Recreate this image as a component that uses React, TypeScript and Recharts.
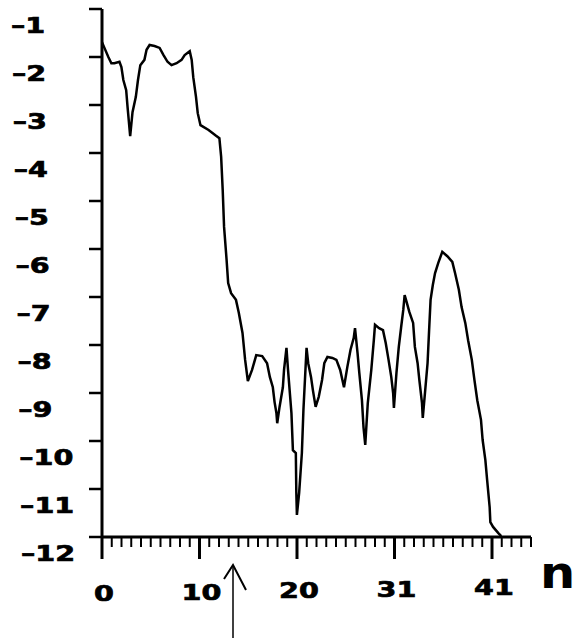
import React from "react";
import { LineChart, Line, XAxis, YAxis } from "recharts";

// n positions (axis units)
const nValues = [
  0, 0.25, 0.65, 0.96, 1.27, 1.79, 1.99, 2.19, 2.48, 2.62, 2.89, 3.13, 3.47,
  3.69, 3.93, 4.35, 4.57, 4.88, 5.39, 5.91, 6.31, 6.72, 7.13, 7.65, 8.16, 8.48,
  9.0, 9.2, 9.36, 9.64, 9.82, 10.1, 10.93, 11.63, 12.04, 12.22, 12.38, 12.52,
  12.78, 12.94, 13.24, 13.74, 14.03, 14.41, 14.68, 14.96, 15.39, 15.82, 16.43,
  16.93, 17.22, 17.52, 17.7, 17.89, 17.97, 18.21, 18.55, 18.67, 18.92, 19.08,
  19.43, 19.58, 19.88, 19.93, 19.99, 20.22, 20.5, 20.66, 20.98, 21.15, 21.44,
  21.63, 21.91, 22.23, 22.57, 22.8, 23.12, 23.63, 24.04, 24.43, 24.82, 25.16,
  25.49, 25.82, 25.95, 26.21, 26.39, 26.66, 26.82, 27.0, 27.26, 27.62, 27.88,
  28.0, 28.42, 28.82, 29.1, 29.39, 29.67, 29.86, 29.94, 30.2, 30.44, 30.68,
  30.9, 31.04, 31.24, 31.52, 31.91, 32.09, 32.37, 32.55, 32.82, 32.9, 33.15,
  33.39, 33.55, 33.7, 33.93, 34.16, 34.49, 34.9, 35.42, 35.93, 36.21, 36.6,
  36.88, 37.26, 37.55, 37.93, 38.2, 38.49, 38.87, 39.04, 39.32, 39.5, 39.76,
  39.83, 40.11, 40.65, 40.95,
];

const levelValues = [
  -1.69, -1.81, -2.0, -2.13, -2.13, -2.1, -2.21, -2.48, -2.69, -3.04, -3.65,
  -3.15, -2.83, -2.48, -2.17, -2.06, -1.85, -1.75, -1.77, -1.81, -1.96, -2.1,
  -2.17, -2.13, -2.06, -1.96, -1.88, -2.06, -2.42, -2.83, -3.17, -3.42, -3.52,
  -3.63, -3.69, -4.08, -4.77, -5.54, -6.23, -6.71, -6.92, -7.06, -7.33, -7.75,
  -8.31, -8.75, -8.52, -8.21, -8.23, -8.38, -8.67, -8.88, -9.19, -9.42, -9.63,
  -9.29, -8.88, -8.52, -8.06, -8.52, -9.42, -10.19, -10.25, -11.08, -11.54,
  -11.08, -10.25, -9.35, -8.06, -8.38, -8.67, -8.94, -9.29, -9.08, -8.73,
  -8.38, -8.25, -8.27, -8.31, -8.52, -8.88, -8.46, -8.1, -7.85, -7.65, -8.17,
  -8.58, -9.15, -9.71, -10.08, -9.21, -8.52, -7.9, -7.58, -7.65, -7.69, -7.96,
  -8.31, -8.67, -9.0, -9.31, -8.58, -8.04, -7.63, -7.27, -6.96, -7.1, -7.31,
  -7.54, -8.04, -8.38, -8.73, -9.21, -9.52, -8.94, -8.38, -7.69, -7.06, -6.75,
  -6.5, -6.29, -6.06, -6.15, -6.27, -6.5, -6.85, -7.21, -7.54, -7.9, -8.31,
  -8.73, -9.15, -9.56, -9.98, -10.4, -10.81, -11.38, -11.69, -11.79, -11.92,
  -11.98,
];

const yTicks = [-1, -2, -3, -4, -5, -6, -7, -8, -9, -10, -11, -12];
const xMajorTicks = [0, 10, 20, 30, 40];
const xTickLabels = ["0", "10", "20", "31", "41"];
const xAllTicks = Array.from({ length: 45 }, (_, i) => i);

const data = nValues.map((n, i) => ({ n, level: levelValues[i] }));

const FONT = "'DejaVu Sans', sans-serif";
const STRETCH = 1.3;

const XTick = (props: any) => {
  const { x, y, payload } = props;
  const idx = xMajorTicks.indexOf(payload.value);
  const major = idx >= 0;
  return (
    <g>
      <line
        x1={x}
        x2={x}
        y1={y}
        y2={y + (major ? 22 : 10)}
        stroke="#000"
        strokeWidth={major ? 3 : 2}
      />
      {major && (
        <text
          transform={`translate(${x + 2}, ${y + 64 - idx * 1.5}) scale(${STRETCH}, 1)`}
          textAnchor="middle"
          fontFamily={FONT}
          fontWeight="bold"
          fontSize={22}
          fill="#000"
          stroke="#000"
          strokeWidth={0.7}
        >
          {xTickLabels[idx]}
        </text>
      )}
    </g>
  );
};

const YTick = (props: any) => {
  const { x, y, payload } = props;
  const label = "\u2013" + Math.abs(payload.value);
  return (
    <g>
      <line x1={x - 13} x2={x} y1={y} y2={y} stroke="#000" strokeWidth={2.5} />
      <text
        transform={`translate(${11 + (y - 9) * 0.019}, ${y + 24}) scale(${STRETCH}, 1)`}
        textAnchor="start"
        fontFamily={FONT}
        fontWeight="bold"
        fontSize={22}
        fill="#000"
        stroke="#000"
        strokeWidth={0.7}
      >
        {label}
      </text>
    </g>
  );
};

export default function App() {
  return (
    <div
      style={{
        position: "absolute",
        left: 0,
        top: 0,
        width: 581,
        height: 638,
        background: "#fff",
      }}
    >
      <LineChart
        width={581}
        height={638}
        data={data}
        margin={{ top: 9, right: 50, bottom: 0, left: 0 }}
      >
        <XAxis
          dataKey="n"
          type="number"
          domain={[0, 44]}
          ticks={xAllTicks}
          interval={0}
          height={101}
          tickSize={0}
          tickMargin={0}
          tickLine={false}
          axisLine={{ stroke: "#000", strokeWidth: 3 }}
          tick={<XTick />}
        />
        <YAxis
          type="number"
          domain={[-12, -1]}
          ticks={yTicks}
          interval={0}
          width={102}
          tickSize={0}
          tickMargin={0}
          tickLine={false}
          axisLine={{ stroke: "#000", strokeWidth: 3 }}
          tick={<YTick />}
        />
        <Line
          type="linear"
          dataKey="level"
          stroke="#000"
          strokeWidth={2.5}
          dot={false}
          isAnimationActive={false}
        />
      </LineChart>
      <svg
        width={581}
        height={638}
        style={{ position: "absolute", left: 0, top: 0, pointerEvents: "none" }}
      >
        <text
          transform="translate(540, 588) scale(1.1, 1)"
          fontFamily={FONT}
          fontWeight="bold"
          fontSize={45}
          fill="#000"
        >
          n
        </text>
        <line x1={233} y1={566} x2={233} y2={638} stroke="#000" strokeWidth={1.5} />
        <polyline
          points="224,579 233,565 246,590"
          fill="none"
          stroke="#000"
          strokeWidth={2}
        />
      </svg>
    </div>
  );
}
